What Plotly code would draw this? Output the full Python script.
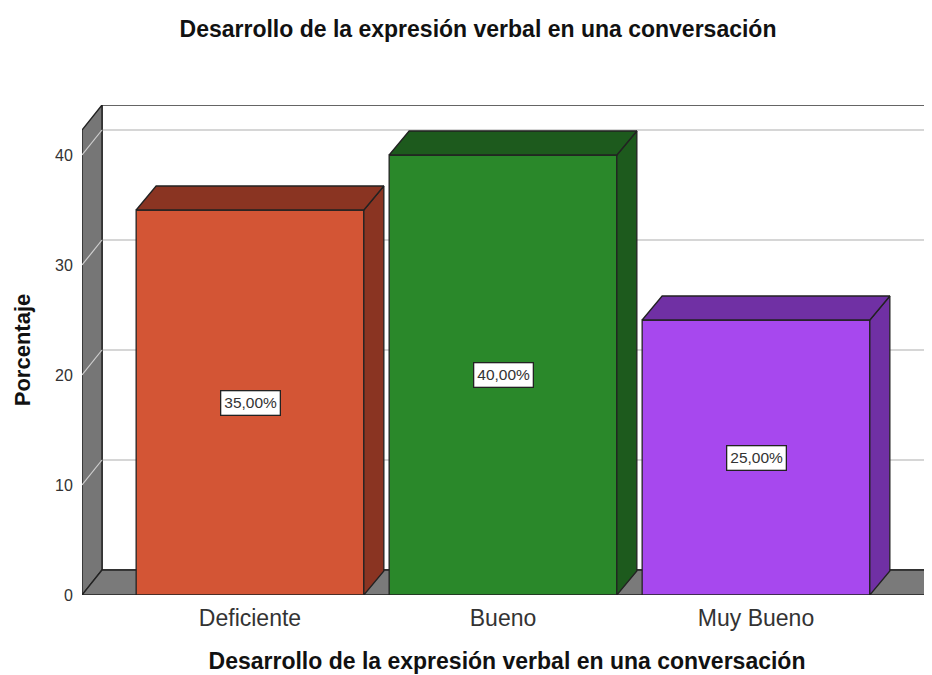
import plotly.graph_objects as go

categories = ["Deficiente", "Bueno", "Muy Bueno"]
percentages = [35.0, 40.0, 25.0]
labels = ["35,00%", "40,00%", "25,00%"]
front_colors = ["#D35535", "#2A882A", "#A748EE"]
shade_colors = ["#8A3422", "#1D5A1D", "#7030A4"]
y_ticks = [0, 10, 20, 30, 40]

title = "Desarrollo de la expresión verbal en una conversación"
FONT = "Liberation Sans, Arial, sans-serif"

# geometry (layout/styling); page has an 8px body margin
OFF = 8
W, H = 932 - OFF, 675 - OFF
ml, mr, mt = 82 - OFF, 0, 105 - OFF
mb = H - (595 - OFF)
px_per_x = 253.0
px_per_y = 11.0
plot_w = W - ml - mr
plot_h = H - mt - mb
xs = list(range(len(categories)))
x0 = -(250 - 82) / px_per_x
x1 = x0 + plot_w / px_per_x
y_top = plot_h / px_per_y
dx = 20 / px_per_x
dy_bar = 24 / px_per_y
dy_wall = 25 / px_per_y
bw = 0.9

fig = go.Figure()

shapes = []
# back wall
shapes.append(dict(type="rect", xref="x", yref="y", x0=x0 + dx, x1=x1 + 1, y0=dy_wall, y1=y_top,
                   fillcolor="white", line=dict(color="#333333", width=1.5), layer="below"))
# back gridlines
for t in y_ticks[1:]:
    shapes.append(dict(type="line", xref="x", yref="y", x0=x0 + dx, x1=x1 + 1, y0=t + dy_wall, y1=t + dy_wall,
                       line=dict(color="#C8C8C8", width=1.6), layer="below"))
# left wall
shapes.append(dict(type="path", xref="x", yref="y",
                   path=f"M {x0},0 L {x0},{y_top - dy_wall} L {x0 + dx},{y_top} L {x0 + dx},{dy_wall} Z",
                   fillcolor="#767676", line=dict(color="#222222", width=1.4), layer="below"))
# floor
shapes.append(dict(type="path", xref="x", yref="y",
                   path=f"M {x0},0 L {x0 + dx},{dy_wall} L {x1 + 1},{dy_wall} L {x1 + 1 - dx},0 Z",
                   fillcolor="#7A7A7A", line=dict(color="#222222", width=1.4), layer="below"))
# left wall gridline connectors
for t in y_ticks[1:]:
    shapes.append(dict(type="line", xref="x", yref="y", x0=x0, x1=x0 + dx, y0=t, y1=t + dy_wall,
                       line=dict(color="#D0D0D0", width=1.2), layer="below"))

# front faces
fig.add_trace(go.Bar(x=xs, y=percentages, width=bw, marker=dict(color=front_colors,
                     line=dict(color="#222222", width=1.3)), hoverinfo="skip", showlegend=False))

# side and top faces computed from the data
for c, v, sc in zip(xs, percentages, shade_colors):
    l, r = c - bw / 2, c + bw / 2
    fig.add_trace(go.Scatter(x=[r, r, r + dx, r + dx, r], y=[0, v, v + dy_bar, dy_bar, 0], mode="lines",
                             fill="toself", fillcolor=sc, line=dict(color="#222222", width=1.3),
                             hoverinfo="skip", showlegend=False))
    fig.add_trace(go.Scatter(x=[l, l + dx, r + dx, r, l], y=[v, v + dy_bar, v + dy_bar, v, v], mode="lines",
                             fill="toself", fillcolor=sc, line=dict(color="#222222", width=1.3),
                             hoverinfo="skip", showlegend=False))

annotations = []
for c, v, lab in zip(xs, percentages, labels):
    annotations.append(dict(x=c, y=v / 2, xref="x", yref="y", text=lab, showarrow=False,
                            font=dict(family=FONT, size=15.5, color="#333333"),
                            bgcolor="white", bordercolor="#222222", borderwidth=1.3, borderpad=3))

fig.update_layout(
    width=W, height=H,
    margin=dict(l=ml, r=mr, t=mt, b=mb, pad=0),
    paper_bgcolor="white", plot_bgcolor="white",
    title=dict(text=f"<b>{title}</b>", x=(478 - OFF) / W, xanchor="center", y=1 - (29 - OFF) / H,
               yanchor="middle", font=dict(family=FONT, size=23, color="#111111")),
    shapes=shapes, annotations=annotations,
    xaxis=dict(range=[x0, x1], tickvals=xs, ticktext=categories, showgrid=False, zeroline=False,
               showline=False, ticks="outside", ticklen=2, tickcolor="rgba(0,0,0,0)",
               tickfont=dict(family=FONT, size=23, color="#333333"),
               title=dict(text=f"<b>{title}</b>", standoff=23,
                          font=dict(family=FONT, size=23, color="#111111"))),
    yaxis=dict(range=[0, y_top], tickvals=y_ticks, showgrid=False, zeroline=False, showline=False,
               ticks="outside", ticklen=5, tickcolor="rgba(0,0,0,0)",
               tickfont=dict(family=FONT, size=16, color="#333333"),
               title=dict(text="<b>Porcentaje</b>", standoff=18,
                          font=dict(family=FONT, size=22, color="#111111"))),
)

fig.write_html("out.html")
